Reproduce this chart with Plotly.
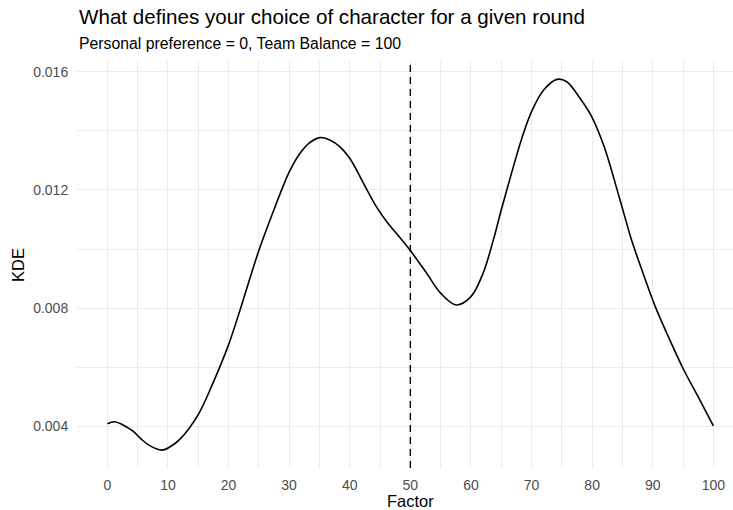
import plotly.graph_objects as go

# Data
factor = [0, 1.2, 2.5, 4.3, 5.6, 7, 9, 10.5, 12, 15, 17.5, 20, 22, 25, 27.4, 29, 30,
          31.8, 33.4, 35.1, 36.7, 38.4, 40, 42.8, 44.5, 46.3, 48, 50, 52.7, 55, 57.6, 60, 62,
          63.7, 65, 66.7, 68.4, 70, 72, 74.2, 75.8, 78, 80, 82, 84.6, 86.5, 88.4, 90.4,
          92.3, 95, 97.5, 100]
kde = [0.00409, 0.00416, 0.00406, 0.00383, 0.00357, 0.00335, 0.00320, 0.00333, 0.00357,
       0.00440, 0.00550, 0.00676, 0.00800, 0.00995, 0.01128, 0.01212, 0.01260,
       0.01324, 0.01360, 0.01377, 0.01369, 0.01346, 0.01307, 0.01202, 0.01140, 0.01087,
       0.01046, 0.00995, 0.00918, 0.00851, 0.00811, 0.00839, 0.00918, 0.01031, 0.01132,
       0.01257, 0.01375, 0.01465, 0.01538, 0.01574, 0.01566, 0.01510, 0.01445, 0.01345,
       0.01166, 0.01031, 0.00918, 0.00806, 0.00716, 0.00596, 0.00500, 0.00402]
vline_x = 50
x_ticks = list(range(0, 101, 10))
y_ticks = [0.004, 0.008, 0.012, 0.016]

title_text = "What defines your choice of character for a given round"
subtitle_text = "Personal preference = 0, Team Balance = 100"

FONT = "Liberation Sans, Arial, Helvetica, sans-serif"

fig = go.Figure()
fig.add_trace(go.Scatter(
    x=factor, y=kde, mode="lines",
    line=dict(color="black", width=1.6, shape="spline", smoothing=1.0),
    hoverinfo="skip", showlegend=False,
))
fig.add_shape(type="line", xref="x", yref="paper", x0=vline_x, x1=vline_x, y0=0, y1=1,
              line=dict(color="black", width=1.4, dash="7px,5px"))

fig.update_layout(
    width=733, height=510,
    margin=dict(l=77.3, r=0, t=61, b=41.7),
    paper_bgcolor="white", plot_bgcolor="white",
    font=dict(family=FONT, color="#4D4D4D"),
    showlegend=False,
    annotations=[
        dict(text=title_text, xref="paper", yref="paper", x=0, y=1.1088,
             xanchor="left", yanchor="middle", showarrow=False,
             font=dict(size=20.6, color="black", family=FONT)),
        dict(text=subtitle_text, xref="paper", yref="paper", x=0, y=1.0435,
             xanchor="left", yanchor="middle", showarrow=False,
             font=dict(size=15.8, color="black", family=FONT)),
        dict(text="Factor", xref="paper", yref="paper", x=0.5082, y=-0.0803,
             xanchor="center", yanchor="middle", showarrow=False,
             font=dict(size=16.5, color="black", family=FONT)),
        dict(text="KDE", xref="paper", yref="paper", x=-0.0908, y=0.5,
             xanchor="center", yanchor="middle", showarrow=False, textangle=-90,
             font=dict(size=16.5, color="black", family=FONT)),
    ],
)
fig.update_xaxes(
    range=[-5, 103.24], tickvals=x_ticks, ticktext=[str(v) for v in x_ticks],
    showgrid=True, gridcolor="#EBEBEB", gridwidth=1.3, zeroline=False, showline=False,
    ticks="outside", ticklen=4, tickcolor="rgba(0,0,0,0)",
    tickfont=dict(size=14, color="#4D4D4D", family=FONT),
    minor=dict(tickvals=[-5 + 10 * i for i in range(12)], showgrid=True,
               gridcolor="#EBEBEB", gridwidth=0.8),
)
fig.update_yaxes(
    range=[0.002594, 0.016362], tickvals=y_ticks, ticktext=["%.3f" % v for v in y_ticks],
    showgrid=True, gridcolor="#EBEBEB", gridwidth=1.3, zeroline=False, showline=False,
    ticks="outside", ticklen=5, tickcolor="rgba(0,0,0,0)",
    tickfont=dict(size=14, color="#4D4D4D", family=FONT),
    minor=dict(tickvals=[0.002, 0.006, 0.010, 0.014], showgrid=True,
               gridcolor="#EBEBEB", gridwidth=0.8),
)

fig.write_html("out.html", config={"displayModeBar": False},
               post_script="document.body.style.margin='0';document.body.style.overflow='hidden';")
